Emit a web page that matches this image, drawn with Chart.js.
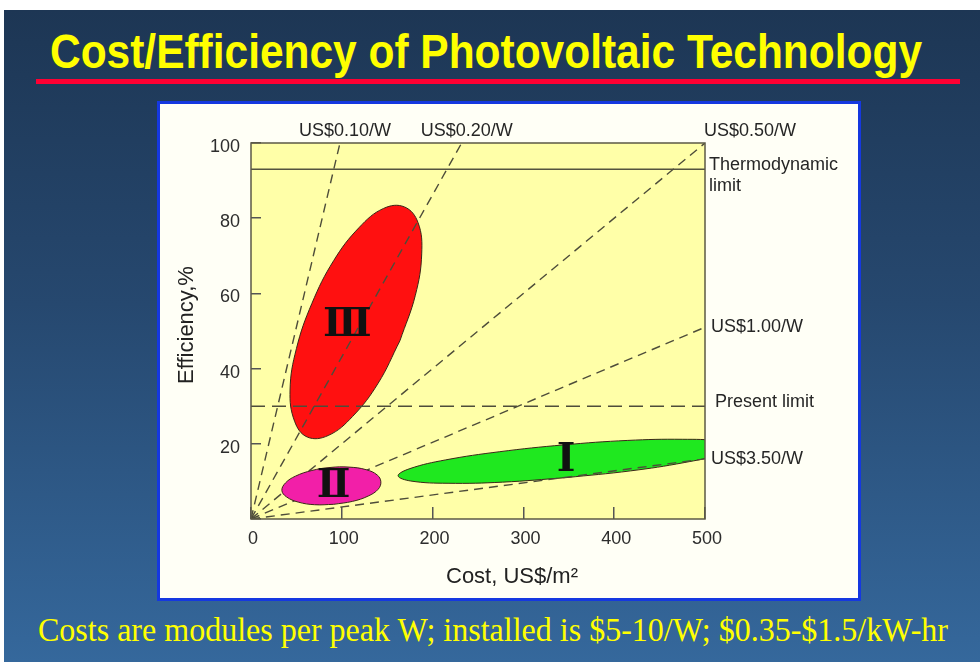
<!DOCTYPE html>
<html>
<head>
<meta charset="utf-8">
<script src="https://cdn.jsdelivr.net/npm/chart.js@4.4.1/dist/chart.umd.min.js"></script>
<style>
  html, body { margin: 0; padding: 0; background: #ffffff; }
  body { width: 980px; height: 662px; position: relative; overflow: hidden; }
  #slide { position: absolute; left: 4px; top: 10px; width: 976px; height: 652px;
    background: linear-gradient(to bottom, #1d3654 0%, #26486f 45%, #35689c 100%); }
  #title { position: absolute; left: 50px; top: 24px; white-space: nowrap; line-height: 48px;
    font: bold 48px 'Liberation Sans', Arial, sans-serif; color: #ffff00; transform-origin: 0 0; }
  #rule { position: absolute; left: 36px; top: 79px; width: 924px; height: 5px; background: #ff0033; }
  #box { position: absolute; left: 157px; top: 101px; width: 698px; height: 494px;
    border: 3px solid #1538e0; background: #fffff6; }
  #chart { position: absolute; left: 0; top: 0; }
  #note { position: absolute; left: 38px; top: 612px; white-space: nowrap; line-height: 33px;
    font: 33px 'Liberation Serif', 'Times New Roman', serif; color: #ffff00; transform-origin: 0 0; }
</style>
</head>
<body>
<div id="slide"></div>
<div id="title">Cost/Efficiency of Photovoltaic Technology</div>
<div id="rule"></div>
<div id="box"><canvas id="chart" width="698" height="494"></canvas></div>
<div id="note">Costs are modules per peak W; installed is $5-10/W; $0.35-$1.5/kW-hr</div>
<script>
// axes
const costMin = 0, costMax = 500, costStep = 100;
const effMin = 0, effMax = 100, effStep = 20;

// cost-per-watt rays from the origin, end points
const priceLabels = ['US$0.10/W', 'US$0.20/W', 'US$0.50/W', 'US$1.00/W', 'US$3.50/W'];
const priceEndCost = [98, 232, 500, 500, 500];
const priceEndEff = [100, 100, 100, 51, 16];

// horizontal limits
const thermoLimit = 93;
const presentLimit = 30;

// outlines of the three technology regions (cost US$/m2, efficiency %)
const region3Cost = [164, 140, 112, 85, 62, 48, 43, 50, 67, 91, 119, 146, 169, 184, 188, 181, 164];
const region3Eff  = [47.4, 36.1, 27.3, 22.2, 21.8, 26.0, 34.3, 45.3, 57.3, 68.7, 77.5, 82.6, 83.0, 78.8, 70.5, 59.5, 47.4];
const region2Cost = [91, 70, 52, 39, 34, 38, 49, 67, 87, 108, 127, 139, 143, 140, 129, 112, 91];
const region2Eff  = [3.9, 3.8, 4.5, 5.9, 7.6, 9.6, 11.4, 12.9, 13.7, 13.8, 13.1, 11.7, 9.9, 7.9, 6.1, 4.7, 3.9];
const region1Cost = [347, 277, 217, 176, 162, 175, 214, 274, 344, 415, 475, 515, 529, 516, 477, 418, 347];
const region1Eff  = [11.0, 9.8, 9.5, 10.1, 11.5, 13.4, 15.7, 17.9, 19.7, 20.9, 21.2, 20.7, 19.2, 17.2, 15.0, 12.8, 11.0];

// region names and where they sit
const regionNames = ['\u2162', '\u2161', '\u2160'];
const regionNameCost = [106, 91, 347];
const regionNameEff = [51.5, 8.6, 15.4];

const xTitle = 'Cost, US$/m\u00b2';
const yTitle = 'Efficiency,%';

const sans = "'Liberation Sans', Arial, sans-serif";
const lineCol = '#4e4d3a';
const toPoints = (xs, ys) => xs.map((x, i) => ({x: x, y: ys[i]}));

const rays = priceLabels.map((lab, i) => ({
  type: 'line',
  label: lab,
  data: [{x: 0, y: 0}, {x: priceEndCost[i], y: priceEndEff[i]}],
  borderColor: lineCol,
  borderWidth: 1.4,
  borderDash: [9, 6],
  pointRadius: 0,
  fill: false,
  tension: 0,
  order: 3
}));

function region(xs, ys, colour, order) {
  return {
    type: 'line',
    data: toPoints(xs, ys),
    backgroundColor: colour,
    borderColor: '#3b2618',
    borderWidth: 1,
    fill: 'shape',
    tension: 0.4,
    capBezierPoints: false,
    pointRadius: 0,
    order: order
  };
}

const datasets = [
  region(region3Cost, region3Eff, '#ff1010', 5),
  region(region1Cost, region1Eff, '#1fe81f', 5),
  region(region2Cost, region2Eff, '#f21fa8', 1),
  ...rays,
  {
    type: 'line', label: 'Thermodynamic limit',
    data: [{x: costMin, y: thermoLimit}, {x: costMax, y: thermoLimit}],
    borderColor: '#55543f', borderWidth: 1.5, pointRadius: 0, fill: false, order: 3
  },
  {
    type: 'line', label: 'Present limit',
    data: [{x: costMin, y: presentLimit}, {x: costMax, y: presentLimit}],
    borderColor: lineCol, borderWidth: 1.4, borderDash: [14, 7], pointRadius: 0, fill: false, order: 3
  }
];

const decor = {
  id: 'decor',
  beforeDraw(chart) {
    const {ctx, chartArea: a} = chart;
    ctx.save();
    ctx.fillStyle = '#ffffa8';
    ctx.fillRect(a.left, a.top, a.right - a.left, a.bottom - a.top);
    ctx.restore();
  },
  afterDatasetsDraw(chart) {
    const {ctx, chartArea: a, scales: {x, y}} = chart;
    ctx.save();
    ctx.strokeStyle = '#5c5a45';
    ctx.lineWidth = 1.5;
    ctx.strokeRect(a.left, a.top, a.right - a.left, a.bottom - a.top);

    // region numerals
    ctx.fillStyle = '#111';
    ctx.font = "bold 40px 'DejaVu Serif', 'Liberation Serif', serif";
    ctx.textAlign = 'center';
    ctx.textBaseline = 'middle';
    regionNames.forEach((n, i) => {
      ctx.fillText(n, x.getPixelForValue(regionNameCost[i]), y.getPixelForValue(regionNameEff[i]));
    });

    // ray labels
    ctx.fillStyle = '#262626';
    ctx.font = '18px ' + sans;
    priceLabels.forEach((lab, i) => {
      const px = x.getPixelForValue(priceEndCost[i]);
      const py = y.getPixelForValue(priceEndEff[i]);
      if (priceEndEff[i] >= effMax && priceEndCost[i] < costMax) {
        ctx.textAlign = 'center';
        ctx.fillText(lab, px + 5, a.top - 12);
      } else if (priceEndEff[i] >= effMax) {
        ctx.textAlign = 'left';
        ctx.fillText(lab, px - 1, a.top - 12);
      } else {
        ctx.textAlign = 'left';
        ctx.fillText(lab, px + 6, py);
      }
    });
    ctx.textAlign = 'left';
    const ty = y.getPixelForValue(thermoLimit);
    ctx.fillText('Thermodynamic', a.right + 4, ty - 4);
    ctx.fillText('limit', a.right + 4, ty + 17);
    ctx.fillText('Present limit', a.right + 10, y.getPixelForValue(presentLimit) - 4);

    // axis titles
    ctx.fillStyle = '#222';
    ctx.font = '22px ' + sans;
    ctx.textAlign = 'center';
    ctx.fillText(xTitle, a.left + 261, a.bottom + 58);
    ctx.translate(a.left - 64, (a.top + a.bottom) / 2 - 6);
    ctx.rotate(-Math.PI / 2);
    ctx.fillText(yTitle, 0, 0);
    ctx.restore();
  }
};

new Chart(document.getElementById('chart'), {
  type: 'line',
  data: { datasets: datasets },
  plugins: [decor],
  options: {
    responsive: false,
    animation: false,
    events: [],
    layout: { padding: { left: 0, top: 39, right: 153, bottom: 0 } },
    plugins: { legend: { display: false }, tooltip: { enabled: false } },
    scales: {
      x: {
        type: 'linear', min: costMin, max: costMax,
        ticks: { stepSize: costStep, color: '#2d2d2d', padding: 21, labelOffset: 2,
                 font: { family: sans, size: 18 } },
        grid: { drawOnChartArea: false, drawTicks: true, tickLength: -12, color: '#555', lineWidth: 1.5 },
        border: { display: false },
        afterFit: s => { s.height = 79; }
      },
      y: {
        type: 'linear', min: effMin, max: effMax,
        ticks: { stepSize: effStep, color: '#2d2d2d', padding: 21, labelOffset: 4,
                 font: { family: sans, size: 18 },
                 callback: v => (v === 0 ? '' : v) },
        grid: { drawOnChartArea: false, drawTicks: true, tickLength: -10, color: '#555', lineWidth: 1.5 },
        border: { display: false },
        afterFit: s => { s.width = 91; }
      }
    }
  }
});

function fitText(id, targetWidth) {
  const el = document.getElementById(id);
  el.style.transform = 'none';
  const w = el.getBoundingClientRect().width;
  el.style.transform = 'scaleX(' + (targetWidth / w) + ')';
}
fitText('title', 872);
fitText('note', 910);
</script>
</body>
</html>
